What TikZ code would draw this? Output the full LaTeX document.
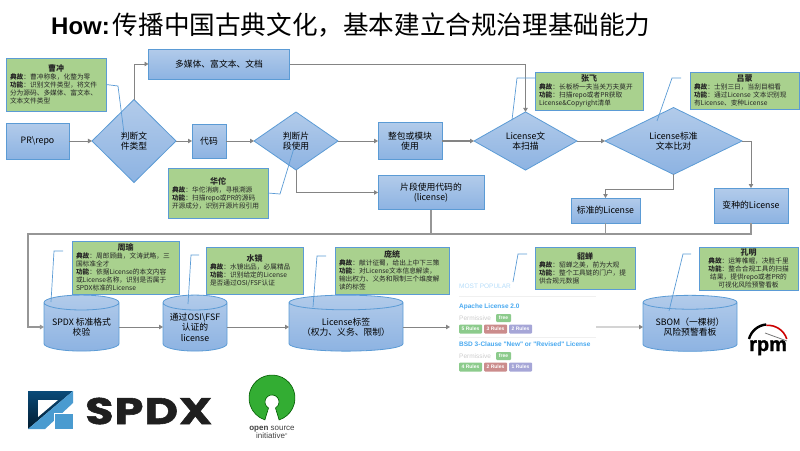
\documentclass[tikz,border=0pt]{standalone}
\usepackage{xcolor}
\usepackage{fontspec}
\setmainfont{Noto Sans CJK SC}
\newfontfamily\latinfont{Liberation Sans}
\newfontfamily\logofont[FakeStretch=1.25,FakeBold=1.5]{Poppins}
\newfontfamily\rpmfont[FakeBold=1.5]{Liberation Sans}
\usetikzlibrary{arrows.meta,positioning,shapes.geometric}
\definecolor{edgeblue}{HTML}{5B9BD5}
\definecolor{boxtop}{HTML}{B2CBEA}
\definecolor{boxbot}{HTML}{8DB3E2}
\definecolor{notegreen}{HTML}{A9D18E}
\definecolor{flowgray}{HTML}{848484}
\definecolor{webblue}{HTML}{47A8EF}
\definecolor{spdxdark}{HTML}{0A4A78}
\definecolor{spdxdeep}{HTML}{021C30}
\definecolor{spdxlight}{HTML}{4A9BD0}
\newcommand{\notehead}[1]{\makebox[\linewidth]{\fontsize{8}{9}\selectfont\bfseries #1}}

\begin{document}
\begin{tikzpicture}[
  x=1pt, y=-1pt,
  node distance=20pt,
  flowbox/.style={draw=edgeblue, line width=0.8pt, top color=boxtop, bottom color=boxbot,
    align=center, inner sep=0pt, outer sep=0pt, font=\fontsize{8.8}{10.5}\selectfont},
  choice/.style={flowbox, shape=diamond, aspect=1},
  drum/.style={flowbox, shape=cylinder, shape border rotate=90},
  note/.style={draw=edgeblue, line width=0.8pt, fill=notegreen, anchor=north west, align=left,
    inner xsep=4pt, inner ysep=0pt, outer sep=0pt, text=black!85, font=\fontsize{6.7}{8}\selectfont},
  arr/.style={-{Triangle[length=4pt,width=4.5pt]}, draw=flowgray, line width=0.9pt},
  feed/.style={draw=flowgray!85, line width=1.4pt},
  lead/.style={draw=edgeblue, line width=0.7pt},
  badge/.style={rounded corners=1pt, text=white, align=center, minimum width=23pt, minimum height=9pt,
    inner sep=0pt, outer sep=0pt, font=\latinfont\fontsize{5}{6}\selectfont\bfseries},
  weblabel/.style={anchor=west, inner sep=0pt, font=\latinfont\fontsize{6.5}{8}\selectfont\bfseries, text=webblue},
  graylabel/.style={anchor=west, inner sep=0pt, font=\latinfont\fontsize{6.5}{8}\selectfont, text=black!20}
]
\useasboundingbox (0,0) rectangle (800,450);

\node[anchor=west, inner sep=0pt] (title) at (51,25) {{\latinfont\fontsize{24}{26}\selectfont\bfseries How:}\hspace{3pt}\fontsize{25.6}{28}\selectfont 传播中国古典文化，基本建立合规治理基础能力};

\node[flowbox, minimum width=63pt, minimum height=36pt] (repo) at (37.5,141) {PR\textbackslash repo};
\node[choice, minimum width=84pt, minimum height=83pt, right=23pt of repo] (filetype) {判断文\\件类型};
\node[flowbox, minimum width=34pt, minimum height=34pt, right=16pt of filetype] (code) {代码};
\node[choice, minimum width=84pt, minimum height=58pt, right=28pt of code] (snippet) {判断片\\段使用};
\node[flowbox, minimum width=64pt, minimum height=37pt, right=40pt of snippet] (whole) {整包或模块\\使用};
\node[choice, minimum width=103pt, minimum height=54pt, right=32pt of whole] (scan) {License文\\本扫描};
\node[choice, minimum width=137pt, minimum height=58pt, right=28pt of scan] (compare) {License标准\\文本比对};
\node[flowbox, minimum width=141pt, minimum height=30pt] (media) at (219,64) {多媒体、富文本、文档};
\node[flowbox, minimum width=106pt, minimum height=34pt, below=16pt of whole.south west, anchor=north west] (piece) {片段使用代码的\\(license)};
\node[flowbox, minimum width=69pt, minimum height=25pt] (standard) at (605.5,210.5) {标准的License};
\node[flowbox, minimum width=74pt, minimum height=35pt] (variant) at (751,205.5) {变种的License};

\node[drum, minimum width=75pt, minimum height=56pt, aspect=0.253] (spdx) at (81.5,327) {SPDX 标准格式\\校验};
\node[drum, minimum width=64pt, minimum height=56pt, aspect=0.297, right=44pt of spdx] (osi) {通过OSI\textbackslash FSF\\认证的\\license};
\node[drum, minimum width=114pt, minimum height=56pt, aspect=0.167, right=62pt of osi] (tag) {License标签\\（权力、义务、限制）};
\node[drum, minimum width=94pt, minimum height=56pt, aspect=0.202] (sbom) at (690,327) {SBOM（一棵树）\\风险预警看板};
\node[minimum width=146pt, minimum height=90pt, inner sep=0pt, outer sep=0pt] (panel) at (523,330) {};

\node[note, text width=92pt, minimum height=53pt] (caochong) at (6,58) {\notehead{曹冲}\\\textbf{典故}：曹冲称象，化整为零\\\textbf{功能}：识别文件类型，将文件\\分为源码、多媒体、富文本、\\文本文件类型};
\node[note, text width=92pt, minimum height=50pt] (huatuo) at (168,168) {\notehead{华佗}\\\textbf{典故}：华佗消病，寻根溯源\\\textbf{功能}：扫描repo或PR的源码\\开源成分，识别开源片段引用};
\node[note, text width=100pt, minimum height=38pt] (zhangfei) at (535,72) {\notehead{张飞}\\\textbf{典故}：长板桥一夫当关万夫莫开\\\textbf{功能}：扫描repo或者PR获取\\License\&Copyright清单};
\node[note, text width=101pt, minimum height=37pt] (lvmeng) at (690,72) {\notehead{吕蒙}\\\textbf{典故}：士别三日，当刮目相看\\\textbf{功能}：通过License 文本识别现\\有License、变种License};
\node[note, text width=99pt, minimum height=53pt] (zhouyu) at (72,241) {\notehead{周瑜}\\\textbf{典故}：周郎顾曲，文涛武略，三\\国标准全才\\\textbf{功能}：依据License的本文内容\\或License名称，识别是否属于\\SPDX标准的License};
\node[note, text width=89pt, minimum height=47pt] (shuijing) at (206,247) {\notehead{水镜}\\\textbf{典故}：水镜出品，必属精品\\\textbf{功能}：识别给定的License\\是否通过OSI/FSF认证};
\node[note, text width=106pt, minimum height=47pt] (pangtong) at (335,247) {\notehead{庞统}\\\textbf{典故}：献计征蜀，给出上中下三策\\\textbf{功能}：对License文本信息解读，\\输出权力、义务和限制三个维度解\\读的标签};
\node[note, text width=92pt, minimum height=42pt] (diaochan) at (535,247) {\notehead{貂蝉}\\\textbf{典故}：貂蝉之美，前为大观\\\textbf{功能}：整个工具链的门户，提\\供合规元数据};
\node[note, text width=91pt, minimum height=43pt, align=center] (kongming) at (699,247) {\textbf{\fontsize{8}{9}\selectfont 孔明}\\\textbf{典故}：运筹帷幄，决胜千里\\\textbf{功能}：整合合规工具的扫描\\结果，提供repo或者PR的\\可视化风险预警看板};

\coordinate (feedcorner) at (28,234);
\draw[arr] (repo) -- (filetype);
\draw[arr] (filetype) -- (code);
\draw[arr] (code) -- (snippet);
\draw[arr] (snippet) -- (whole);
\draw[arr, line width=1.3pt] (whole) -- (scan);
\draw[arr] (scan) -- (compare);
\draw[arr] (filetype.north) |- (media.west);
\draw[arr] (media.east) -| (scan.north);
\draw[arr] (snippet.south) |- (piece.west);
\draw[arr] (compare.south) -- ++(0,15) -| (standard.north);
\draw[arr] (compare.east) -| (variant.north);
\draw[feed, -{Triangle[length=4pt,width=4.5pt]}] (variant.south) |- (feedcorner) |- (spdx.west);
\draw[feed] (standard.south) -- (standard.south |- feedcorner);
\draw[feed] (piece.south) -- (piece.south |- feedcorner);
\draw[arr] (spdx.east) -- (osi.west);
\draw[arr] (osi.east) -- (tag.west);
\draw[arr] (tag.east) -- (tag.east -| panel.west);
\draw[arr] (tag.east -| panel.east) -- (sbom.west);

\coordinate (caochong end) at (124,133);
\coordinate (huatuo end) at (294,148);
\coordinate (zhangfei end) at (512,120);
\coordinate (lvmeng end) at (657,121);
\coordinate (zhouyu end) at (51,302);
\coordinate (shuijing end) at (188,304);
\coordinate (pangtong end) at (313,307);
\coordinate (diaochan end) at (513,282);
\coordinate (kongming end) at (669,311);
\draw[lead] (caochong.east) -- (118,86) -- (caochong end);
\draw[lead] (huatuo.east) -- (280,194) -- (huatuo end);
\draw[lead] (zhangfei end) -- (517,78) -- (535,78);
\draw[lead] (lvmeng end) -- (672,78) -- (681,78);
\draw[lead] (zhouyu end) -- (54,251) -- (63,251);
\draw[lead] (shuijing end) -- (191,255) -- (199,255);
\draw[lead] (pangtong end) -- (317,256) -- (326,256);
\draw[lead] (diaochan end) -- (518,254) -- (527,254);
\draw[lead] (kongming end) -- (683,254) -- (691,254);

\node[graylabel, text=webblue!40] (popular) at (459,286) {MOST POPULAR};
\draw[black!6] (459,296) -- (596,296);
\node[weblabel] (apache) at (459,306.5) {Apache License 2.0};
\node[graylabel] (perm one) at (459,318) {Permissive};
\node[badge, fill=green!55!black!45, minimum width=15pt, minimum height=8pt] (free one) at (503.5,318) {free};
\node[badge, fill=green!55!black!45] (five) at (470.5,329) {5 Rules};
\node[badge, fill=red!55!black!45, right=2pt of five] (three) {3 Rules};
\node[badge, fill=blue!55!black!35, right=2pt of three] (two) {2 Rules};
\draw[black!6] (459,337) -- (596,337);
\node[weblabel] (bsd) at (459,344) {BSD 3-Clause "New" or "Revised" License};
\node[graylabel] (perm two) at (459,356) {Permissive};
\node[badge, fill=green!55!black!45, minimum width=15pt, minimum height=8pt] (free two) at (503.5,356) {free};
\node[badge, fill=green!55!black!45] (four) at (470.5,367) {4 Rules};
\node[badge, fill=red!55!black!45, right=2pt of four] (twored) {2 Rules};
\node[badge, fill=blue!55!black!35, right=2pt of twored] (one) {1 Rules};

\shade[top color=spdxdark, bottom color=spdxdeep] (28,391) -- (73,391) -- (28,429) -- cycle;
\fill[white] (38,400) -- (58,400) -- (38,417) -- cycle;
\fill[spdxlight] (73,391) -- (73,403) -- (45,429) -- (28,429) -- cycle;
\fill[spdxlight, draw=white, line width=1pt] (54,413) rectangle (73.5,429.5);
\node[anchor=west, inner sep=0pt, text=black!88, font=\logofont\fontsize{37}{40}\selectfont\bfseries] (spdxlogo) at (85,411) {S\kern1pt P\kern1pt D\kern1pt X};

\fill[green!60!black!80!white, draw=green!35!black, line width=0.6pt] (279.1,419.9) arc[start angle=-72, end angle=252, radius=23pt] -- (268.5,408) arc[start angle=240, end angle=-60, radius=7pt] -- cycle;
\node[inner sep=0pt, align=center, text=black!75, font=\latinfont\fontsize{8}{8.2}\selectfont] (osilogo) at (272,432) {\textbf{open} source\\initiative\textsuperscript{\fontsize{3}{3}\selectfont ®}};

\node[anchor=base, inner sep=0pt, font=\rpmfont\fontsize{20}{22}\selectfont\bfseries] (rpmlogo) at (768,351) {rpm};
\draw[line width=2.4pt] (749,339) arc[start angle=165, end angle=95, radius=19.7pt];
\draw[red!80!black, line width=1.6pt] (766.3,325.4) arc[start angle=95, end angle=18, radius=19.7pt];
\draw[black!60, line width=0.7pt] (765,333) -- (787,341);
\end{tikzpicture}
\end{document}
